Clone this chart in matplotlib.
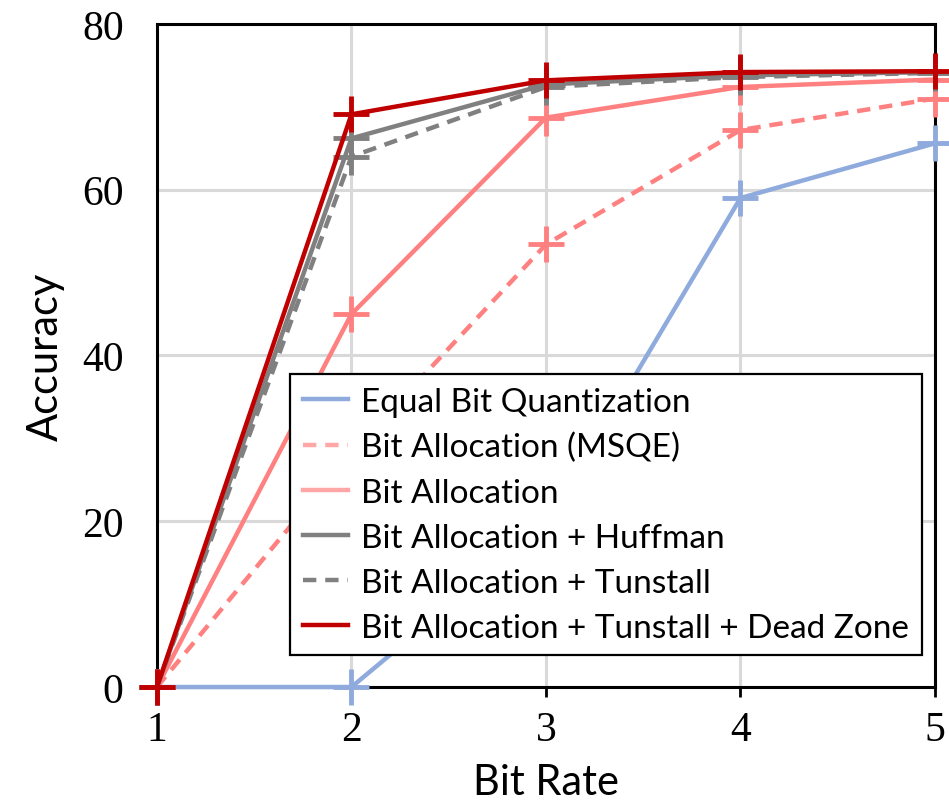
import matplotlib
matplotlib.use('Agg')
import matplotlib.pyplot as plt
from matplotlib.lines import Line2D

# data
bit_rate = [1, 2, 3, 4, 5]
equal_bit = [0, 0, 19.5, 59, 65.6]
bit_alloc_msqe = [0, 28.3, 53.4, 67.2, 71.0]
bit_alloc = [0, 45.0, 68.7, 72.4, 73.3]
huffman = [0, 66.2, 72.7, 73.8, 74.2]
tunstall = [0, 64.0, 72.4, 73.6, 74.1]
dead_zone = [0, 69.1, 73.2, 74.2, 74.3]

labels = ['Equal Bit Quantization', 'Bit Allocation (MSQE)', 'Bit Allocation',
          'Bit Allocation + Huffman', 'Bit Allocation + Tunstall',
          'Bit Allocation + Tunstall + Dead Zone']
series = [equal_bit, bit_alloc_msqe, bit_alloc, huffman, tunstall, dead_zone]
colors = ['#8FAADC', '#FF8080', '#FF8080', '#808080', '#808080', '#C00000']
styles = ['-', '--', '-', '-', '--', '-']

fig = plt.figure(figsize=(9.49, 8.03), dpi=100)
ax = fig.add_axes([0.1654, 0.1432, 0.8198, 0.8257])

for ys, c, ls in zip(series, colors, styles):
    ax.plot(bit_rate, ys, color=c, linestyle=ls, linewidth=3.2,
            marker='+', markersize=26, markeredgewidth=3.5,
            dashes=(3, 2) if ls == '--' else (None, None),
            clip_on=False, zorder=3)

ax.set_xlim(1, 5)
ax.set_ylim(0, 80)
ax.set_xticks([1, 2, 3, 4, 5])
ax.set_yticks([0, 20, 40, 60, 80])
ax.grid(True, color='#D9D9D9', linewidth=2.2)
ax.set_axisbelow(True)
for s in ax.spines.values():
    s.set_linewidth(2.2)
    s.set_color('black')

ax.tick_params(axis='x', length=7, width=2, pad=10, labelsize=30)
ax.tick_params(axis='y', length=0, pad=24, labelsize=30)
for t in ax.get_xticklabels() + ax.get_yticklabels():
    t.set_fontfamily('Liberation Serif')

ax.set_xlabel('Bit Rate', fontsize=30, family='Lato', labelpad=10)
ax.set_ylabel('Accuracy', fontsize=30, family='Lato', labelpad=12)

handles = [Line2D([], [], color=c, linestyle=ls, linewidth=3.2,
                  dashes=(3, 2) if ls == '--' else (None, None))
           for c, ls in zip(colors, styles)]
for h in handles[1:3]:
    h.set_alpha(0.7)
leg = ax.legend(handles, labels, loc='lower left', bbox_to_anchor=(0.171, 0.048),
                prop={'family': 'Lato', 'size': 24}, frameon=True, fancybox=False,
                edgecolor='black', framealpha=1, handlelength=1.35,
                handletextpad=0.4, labelspacing=0.45, borderpad=0.38,
                borderaxespad=0)
leg.get_frame().set_linewidth(1.6)
leg.set_zorder(5)

fig.savefig('out.png', dpi=100)
